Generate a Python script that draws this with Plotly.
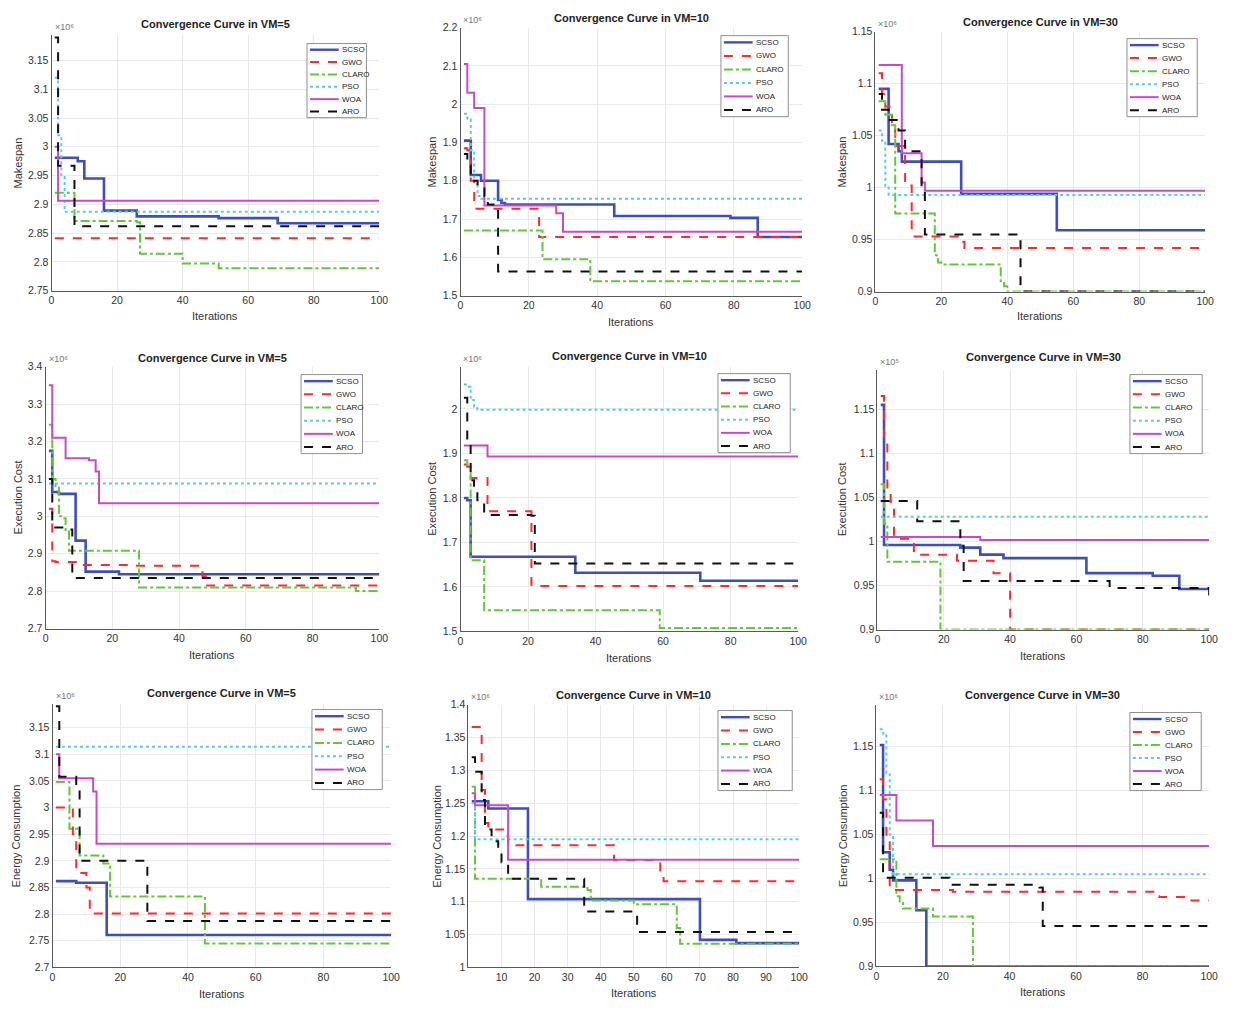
import plotly.graph_objects as go

# ---------------- data (change points: iteration, value; values x 10^6 / 10^5) ----------------
ALGOS = ["SCSO", "GWO", "CLARO", "PSO", "WOA", "ARO"]

MAKESPAN_VM5 = {
    "SCSO": ([1, 8, 10, 16, 26, 51, 69], [2.981, 2.975, 2.945, 2.889, 2.879, 2.876, 2.867]),
    "GWO": ([1], [2.841]),
    "CLARO": ([1, 7, 26, 27, 40, 51], [2.92, 2.871, 2.869, 2.814, 2.797, 2.789]),
    "PSO": ([1, 2, 3, 4], [3.12, 3.02, 2.95, 2.887]),
    "WOA": ([1, 2], [3.0, 2.906]),
    "ARO": ([1, 2, 7], [3.19, 2.967, 2.862]),
}
MAKESPAN_VM10 = {
    "SCSO": ([1, 3, 6, 11, 12, 13, 45, 79, 87], [1.905, 1.815, 1.80, 1.75, 1.742, 1.738, 1.708, 1.703, 1.653]),
    "GWO": ([1, 2, 3, 4, 23], [1.885, 1.88, 1.80, 1.727, 1.653]),
    "CLARO": ([1, 24, 38], [1.67, 1.595, 1.537]),
    "PSO": ([1, 2, 3, 4, 5, 6], [1.975, 1.96, 1.88, 1.80, 1.76, 1.753]),
    "WOA": ([1, 2, 4, 7, 28, 30], [2.105, 2.03, 1.99, 1.735, 1.715, 1.667]),
    "ARO": ([1, 2, 3, 5, 7, 8, 11], [1.87, 1.84, 1.80, 1.78, 1.76, 1.738, 1.563]),
}
MAKESPAN_VM30 = {
    "SCSO": ([1, 4, 7, 8, 26, 55], [1.095, 1.042, 1.035, 1.025, 0.994, 0.959]),
    "GWO": ([1, 2, 3, 5, 6, 9, 11, 26, 27], [1.11, 1.09, 1.078, 1.06, 1.04, 1.002, 0.953, 0.948, 0.942]),
    "CLARO": ([1, 3, 5, 6, 18, 19, 20, 38, 39, 40], [1.083, 1.07, 1.06, 0.975, 0.935, 0.928, 0.926, 0.91, 0.905, 0.90]),
    "PSO": ([1, 2, 3, 4], [1.055, 1.045, 1.0, 0.993]),
    "WOA": ([1, 8, 14, 15], [1.118, 1.033, 1.005, 0.997]),
    "ARO": ([1, 2, 4, 7, 9, 14, 15, 44], [1.09, 1.075, 1.065, 1.055, 1.035, 1.0, 0.955, 0.90]),
}
EXECCOST_VM5 = {
    "SCSO": ([1, 2, 4, 9, 12, 22], [3.175, 3.065, 3.06, 2.935, 2.852, 2.845]),
    "GWO": ([1, 2, 3, 11, 27, 47, 48], [3.02, 2.88, 2.878, 2.87, 2.868, 2.84, 2.815]),
    "CLARO": ([1, 2, 3, 4, 5, 6, 7, 28, 93], [3.245, 3.1, 3.08, 3.0, 2.995, 2.96, 2.908, 2.81, 2.8]),
    "PSO": ([1], [3.088]),
    "WOA": ([1, 2, 6, 13, 15, 16], [3.35, 3.21, 3.155, 3.15, 3.12, 3.035]),
    "ARO": ([1, 2, 6, 8], [3.1, 2.97, 2.965, 2.835]),
}
EXECCOST_VM10 = {
    "SCSO": ([1, 2, 3, 34, 71], [1.80, 1.795, 1.668, 1.632, 1.614]),
    "GWO": ([1, 2, 3, 8, 21], [1.875, 1.87, 1.845, 1.77, 1.602]),
    "CLARO": ([1, 2, 3, 7, 59], [1.885, 1.87, 1.66, 1.548, 1.508]),
    "PSO": ([1, 2, 3, 4, 5], [2.055, 2.05, 2.02, 2.005, 1.998]),
    "WOA": ([1, 8], [1.918, 1.893]),
    "ARO": ([1, 2, 3, 4, 5, 7, 21, 22], [2.025, 1.93, 1.84, 1.82, 1.795, 1.762, 1.76, 1.653]),
}
EXECCOST_VM30 = {
    "SCSO": ([1, 2, 25, 31, 38, 63, 83, 91], [1.155, 0.996, 0.993, 0.985, 0.981, 0.964, 0.961, 0.946]),
    "GWO": ([1, 2, 3, 4, 5, 11, 24, 35, 40], [1.165, 1.11, 1.06, 1.045, 1.003, 0.985, 0.978, 0.964, 0.90]),
    "CLARO": ([1, 2, 3, 19], [1.065, 1.02, 0.977, 0.90]),
    "PSO": ([1], [1.028]),
    "WOA": ([1, 31], [1.005, 1.0015]),
    "ARO": ([1, 12, 25, 26, 70, 100], [1.046, 1.023, 0.995, 0.955, 0.947, 0.935]),
}
ENERGY_VM5 = {
    "SCSO": ([1, 7, 16], [2.862, 2.859, 2.761]),
    "GWO": ([1, 6, 7, 10, 11], [3.0, 2.95, 2.877, 2.85, 2.801]),
    "CLARO": ([1, 5, 8, 15, 17, 45], [3.048, 2.96, 2.91, 2.895, 2.833, 2.745]),
    "PSO": ([1], [3.114]),
    "WOA": ([1, 2, 12, 13], [3.1, 3.055, 3.03, 2.932]),
    "ARO": ([1, 2, 7, 8, 28], [3.19, 3.058, 3.035, 2.9, 2.787]),
}
ENERGY_VM10 = {
    "SCSO": ([1, 6, 18, 70, 81], [1.253, 1.242, 1.104, 1.042, 1.037]),
    "GWO": ([1, 4, 5, 6, 11, 12, 44, 58, 59], [1.366, 1.27, 1.22, 1.21, 1.2, 1.186, 1.163, 1.145, 1.131]),
    "CLARO": ([1, 2, 22, 36, 37, 50, 63, 64], [1.275, 1.135, 1.123, 1.118, 1.102, 1.096, 1.06, 1.036]),
    "PSO": ([1, 2], [1.25, 1.195]),
    "WOA": ([1, 2, 12], [1.265, 1.247, 1.164]),
    "ARO": ([1, 2, 4, 5, 7, 9, 10, 12, 35, 51], [1.32, 1.298, 1.255, 1.21, 1.192, 1.18, 1.16, 1.135, 1.085, 1.054]),
}
ENERGY_VM30 = {
    "SCSO": ([1, 2, 4, 5, 12, 15], [1.152, 1.03, 1.01, 0.998, 0.964, 0.90]),
    "GWO": ([1, 2, 3, 4, 5, 23, 84, 85, 93], [1.113, 1.09, 1.05, 0.99, 0.987, 0.985, 0.98, 0.979, 0.975]),
    "CLARO": ([1, 6, 7, 8, 17, 29], [1.022, 0.98, 0.974, 0.966, 0.957, 0.90]),
    "PSO": ([1, 2, 3, 4, 5], [1.17, 1.165, 1.12, 1.05, 1.005]),
    "WOA": ([1, 6, 17], [1.095, 1.066, 1.037]),
    "ARO": ([1, 2, 22, 49, 50], [1.075, 1.001, 0.993, 0.99, 0.946]),
}

YTICKS_MAKESPAN_VM5 = [2.75, 2.8, 2.85, 2.9, 2.95, 3.0, 3.05, 3.1, 3.15]
YTICKS_MAKESPAN_VM10 = [1.5, 1.6, 1.7, 1.8, 1.9, 2.0, 2.1, 2.2]
YTICKS_VM30 = [0.9, 0.95, 1.0, 1.05, 1.1, 1.15]
YTICKS_EXEC_VM5 = [2.7, 2.8, 2.9, 3.0, 3.1, 3.2, 3.3, 3.4]
YTICKS_EXEC_VM10 = [1.5, 1.6, 1.7, 1.8, 1.9, 2.0]
YTICKS_ENERGY_VM5 = [2.7, 2.75, 2.8, 2.85, 2.9, 2.95, 3.0, 3.05, 3.1, 3.15]
YTICKS_ENERGY_VM10 = [1.0, 1.05, 1.1, 1.15, 1.2, 1.25, 1.3, 1.35, 1.4]
XTICKS_20 = [0, 20, 40, 60, 80, 100]
XTICKS_10 = [10, 20, 30, 40, 50, 60, 70, 80, 90, 100]
LAST_ITER = 100
SUPERSCRIPT = {5: "⁵", 6: "⁶"}

# ---------------- styles ----------------
W, H = 1233, 1011
STYLE = {
    "SCSO": dict(color="#3d4fbf", dash="solid", width=2.6),
    "GWO": dict(color="#ff2a2a", dash="dash", width=2.0),
    "CLARO": dict(color="#62c83a", dash="dashdot", width=2.0),
    "PSO": dict(color="#5cc9ec", dash="dot", width=2.0),
    "WOA": dict(color="#c64cc6", dash="solid", width=2.0),
    "ARO": dict(color="#111111", dash="dash", width=2.0),
}
FONT = "Liberation Sans, Arial, sans-serif"

# panel: data, title, ylabel, yrange, yticks, xrange, xticks, axes box (L, R, T, B), exponent,
#        legend box (L, R, T, B), title y, xlabel y, ylabel x
PANELS = [
    (MAKESPAN_VM5, "Convergence Curve in VM=5", "Makespan", [2.75, 3.195], YTICKS_MAKESPAN_VM5, [0, 100], XTICKS_20,
     (49, 380, 29, 288), 6, (307, 367, 38, 113), 18, 314, 15),
    (MAKESPAN_VM10, "Convergence Curve in VM=10", "Makespan", [1.5, 2.2], YTICKS_MAKESPAN_VM10, [0, 100], XTICKS_20,
     (462, 807, 22, 293), 6, (725, 793, 30, 112), 12, 320, 433),
    (MAKESPAN_VM30, "Convergence Curve in VM=30", "Makespan", [0.9, 1.15], YTICKS_VM30, [0, 100], XTICKS_20,
     (881, 1214, 26, 289), 6, (1135, 1206, 33, 112), 16, 314, 847),
    (EXECCOST_VM5, "Convergence Curve in VM=5", "Execution Cost", [2.7, 3.4], YTICKS_EXEC_VM5, [0, 100], XTICKS_20,
     (43, 380, 365, 630), 6, (301, 363, 373, 453), 356, 657, 15),
    (EXECCOST_VM10, "Convergence Curve in VM=10", "Execution Cost", [1.5, 2.095], YTICKS_EXEC_VM10, [0, 100], XTICKS_20,
     (462, 803, 365, 633), 6, (722, 795, 372, 452), 354, 660, 433),
    (EXECCOST_VM30, "Convergence Curve in VM=30", "Execution Cost", [0.9, 1.195], YTICKS_VM30, [0, 100], XTICKS_20,
     (883, 1218, 368, 631), 5, (1138, 1211, 373, 453), 355, 658, 847),
    (ENERGY_VM5, "Convergence Curve in VM=5", "Energy Consumption", [2.7, 3.195], YTICKS_ENERGY_VM5, [0, 100], XTICKS_20,
     (50, 392, 706, 973), 6, (312, 383, 712, 793), 695, 1000, 13),
    (ENERGY_VM10, "Convergence Curve in VM=10", "Energy Consumption", [1.0, 1.4], YTICKS_ENERGY_VM10, [0, 100], XTICKS_10,
     (470, 804, 707, 973), 6, (722, 797, 713, 794), 697, 999, 438),
    (ENERGY_VM30, "Convergence Curve in VM=30", "Energy Consumption", [0.9, 1.198], YTICKS_VM30, [0, 100], XTICKS_20,
     (882, 1218, 707, 972), 6, (1138, 1210, 715, 794), 697, 998, 848),
]


def fmt(v):
    return f"{v:g}"


def px(x):
    return x / W


def py(y):
    return 1 - y / H


fig = go.Figure()
annotations = []
shapes = []
layout = dict(
    width=W, height=H, margin=dict(l=0, r=0, t=0, b=0),
    paper_bgcolor="white", plot_bgcolor="white", showlegend=False,
    font=dict(family=FONT, size=10, color="#333333"),
)

for i, (data, title, ylab, yr, yt, xr, xt, box, expo, lbox, ty, xly, ylx) in enumerate(PANELS, start=1):
    L, R, T, B = box
    sfx = "" if i == 1 else str(i)
    xa, ya = "x" + sfx, "y" + sfx
    for name in ALGOS:
        its, vals = data[name]
        its, vals = list(its), list(vals)
        if its[-1] < LAST_ITER:
            its.append(LAST_ITER)
            vals.append(vals[-1])
        st = STYLE[name]
        fig.add_trace(go.Scatter(
            x=its, y=vals, mode="lines", name=name, line_shape="hv",
            line=dict(color=st["color"], dash=st["dash"], width=st["width"]),
            xaxis=xa, yaxis=ya, showlegend=False,
        ))
    common = dict(showgrid=True, gridcolor="#e9e9e9", gridwidth=1, zeroline=False,
                  showline=True, linecolor="#5a5a5a", linewidth=1, ticks="",
                  tickfont=dict(size=10.5, color="#333333"))
    layout["xaxis" + sfx] = dict(domain=[px(L), px(R)], range=xr, anchor=ya, tickvals=xt,
                                 ticktext=[fmt(v) for v in xt], **common)
    layout["yaxis" + sfx] = dict(domain=[py(B), py(T)], range=yr, anchor=xa, tickvals=yt,
                                 ticktext=[fmt(v) for v in yt], **common)

    # legend box (drawn like the MATLAB legend)
    lL, lR, lT, lB = lbox
    shapes.append(dict(type="rect", xref="paper", yref="paper", x0=px(lL), x1=px(lR), y0=py(lB), y1=py(lT),
                       fillcolor="white", line=dict(color="#8f8f8f", width=1), layer="above"))
    step = (lB - lT) / len(ALGOS)
    for k, name in enumerate(ALGOS):
        st = STYLE[name]
        yc = lT + step * (k + 0.5)
        shapes.append(dict(type="line", xref="paper", yref="paper", x0=px(lL + 3), x1=px(lL + 32),
                           y0=py(yc), y1=py(yc), layer="above",
                           line=dict(color=st["color"], dash=st["dash"], width=2 if name != "SCSO" else 2.4)))
        annotations.append(dict(x=px(lL + 33), y=py(yc), xref="paper", yref="paper", xanchor="left",
                                yanchor="middle", text=name, showarrow=False,
                                font=dict(size=8, color="#222222")))
    # title
    annotations.append(dict(
        x=px((L + R) / 2), y=py(ty), xref="paper", yref="paper", xanchor="center", yanchor="middle",
        text=title, showarrow=False, font=dict(size=11, color="#222222", weight="bold"),
    ))
    # x label
    annotations.append(dict(
        x=px((L + R) / 2), y=py(xly), xref="paper", yref="paper", xanchor="center", yanchor="middle",
        text="Iterations", showarrow=False, font=dict(size=11, color="#333333"),
    ))
    # y label
    annotations.append(dict(
        x=px(ylx), y=py((T + B) / 2), xref="paper", yref="paper", xanchor="center", yanchor="middle",
        text=ylab, textangle=-90, showarrow=False, font=dict(size=11, color="#333333"),
    ))
    # exponent
    annotations.append(dict(
        x=px(L + 1), y=py(T - 1), xref="paper", yref="paper", xanchor="left", yanchor="bottom",
        text="×10" + SUPERSCRIPT[expo], showarrow=False, font=dict(size=9, color="#777777"),
    ))

layout["annotations"] = annotations
layout["shapes"] = shapes
fig.update_layout(**layout)
fig.write_html("out.html", config={"displayModeBar": False},
               post_script="document.body.style.margin='0';document.body.style.padding='0';")
